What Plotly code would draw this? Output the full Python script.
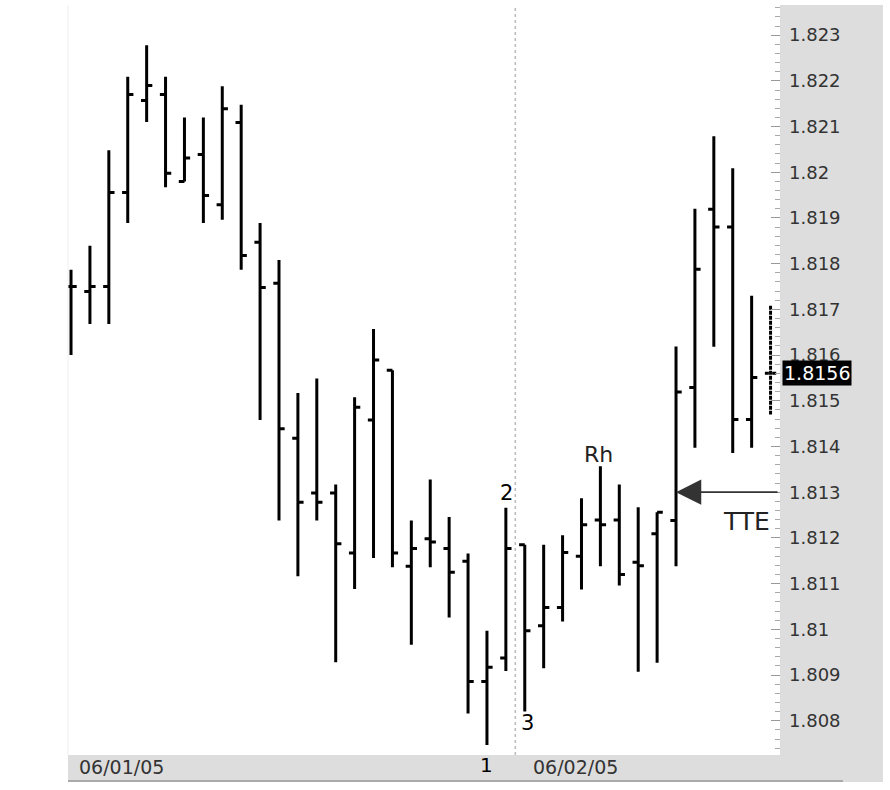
import plotly.graph_objects as go

# ---- data (bar index, OHLC) ----
bars = list(range(38))
opens = [1.8175, 1.81739, 1.8175, 1.81956, 1.82157, 1.8217, 1.8198, 1.82039, 1.81929, 1.82109,
         1.81847, 1.81757, 1.81418, 1.81298, 1.81298, 1.81167, 1.81458, 1.81567, 1.81138, 1.81198,
         1.81177, 1.81149, 1.80886, 1.80937, 1.81185, 1.81008, 1.81048, 1.8116, 1.81239, 1.81239,
         1.81147, 1.81209, 1.81238, 1.81529, 1.81919, 1.8188, 1.81459, 1.8156]
highs = [1.81787, 1.81839, 1.82048, 1.82209, 1.82278, 1.82209, 1.8212, 1.8212, 1.82188, 1.82148,
         1.81889, 1.81808, 1.81517, 1.81549, 1.81317, 1.81508, 1.81657, 1.81567, 1.81238, 1.81328,
         1.81246, 1.81166, 1.80997, 1.81266, 1.81185, 1.81185, 1.81206, 1.81287, 1.81357, 1.81317,
         1.81267, 1.81256, 1.81619, 1.8192, 1.82079, 1.82009, 1.8173, 1.81708]
lows = [1.816, 1.81668, 1.81668, 1.81889, 1.8211, 1.81967, 1.8198, 1.81889, 1.81896, 1.81787,
        1.81458, 1.81238, 1.81116, 1.81238, 1.80928, 1.81088, 1.81156, 1.81136, 1.80966, 1.81136,
        1.81026, 1.80816, 1.80747, 1.80909, 1.8082, 1.80915, 1.81017, 1.81087, 1.81138, 1.81096,
        1.80907, 1.80927, 1.81138, 1.81397, 1.81618, 1.81386, 1.81397, 1.8147]
closes = [1.8175, 1.8175, 1.81956, 1.8217, 1.8219, 1.81998, 1.82031, 1.81949, 1.82139, 1.81818,
          1.81748, 1.81439, 1.81278, 1.81278, 1.81187, 1.81486, 1.81589, 1.81167, 1.81177, 1.81191,
          1.81125, 1.80886, 1.80917, 1.81177, 1.80997, 1.81048, 1.81168, 1.81229, 1.81229, 1.8112,
          1.81139, 1.81256, 1.81519, 1.81788, 1.8188, 1.81459, 1.81551, 1.8156]

y_tickvals = [1.808, 1.809, 1.810, 1.811, 1.812, 1.813, 1.814, 1.815, 1.816, 1.817,
              1.818, 1.819, 1.820, 1.821, 1.822, 1.823]
y_ticktext = ["1.808", "1.809", "1.81", "1.811", "1.812", "1.813", "1.814", "1.815", "1.816",
              "1.817", "1.818", "1.819", "1.82", "1.821", "1.822", "1.823"]
date_labels = ["06/01/05", "06/02/05"]
date_label_pos = [0.32, 24.35]
day_break = 23.5
last_price = 1.8156

FONT = "DejaVu Sans"
fig = go.Figure()

black_line = dict(line=dict(color="black", width=3))
fig.add_trace(go.Ohlc(x=bars[:-1], open=opens[:-1], high=highs[:-1], low=lows[:-1],
                      close=closes[:-1], increasing=black_line, decreasing=black_line,
                      tickwidth=0.3, hoverinfo="skip", showlegend=False))
dash_line = dict(line=dict(color="black", width=3, dash="4px,1px"))
fig.add_trace(go.Ohlc(x=bars[-1:], open=opens[-1:], high=highs[-1:], low=lows[-1:],
                      close=closes[-1:], increasing=dash_line, decreasing=dash_line,
                      tickwidth=0.3, hoverinfo="skip", showlegend=False))

L, R, T, B = 68, 110, 5, 35
W, H = 890, 790
pw, ph = W - L - R, H - T - B

def px_x(p):
    return (p - L) / pw

def px_y(p):
    return (H - B - p) / ph

shapes = [
    dict(type="rect", xref="paper", yref="paper", x0=1, x1=px_x(883), y0=px_y(782), y1=1,
         fillcolor="#dddddd", line=dict(width=0), layer="below"),
    dict(type="rect", xref="paper", yref="paper", x0=0, x1=1, y0=px_y(782), y1=0,
         fillcolor="#dddddd", line=dict(width=0), layer="below"),
    dict(type="line", xref="paper", yref="paper", x0=0, x1=px_x(843), y0=px_y(781), y1=px_y(781),
         line=dict(color="#aaaaaa", width=2)),
    dict(type="line", xref="paper", yref="paper", x0=0, x1=0, y0=0, y1=1,
         line=dict(color="#eeeeee", width=1)),
    dict(type="line", xref="x", yref="paper", x0=day_break, x1=day_break, y0=0, y1=1,
         line=dict(color="#bbbbbb", width=1.5, dash="dot"), layer="below"),
]

annotations = [
    dict(x=1, xref="paper", y=last_price, yref="y", text="1.8156", showarrow=False,
         xanchor="left", yanchor="middle", xshift=2, bgcolor="black", borderpad=1,
         font=dict(family=FONT, size=19, color="white")),
    dict(x=22, xref="x", y=px_y(765), yref="paper", text="1", showarrow=False,
         yanchor="middle", font=dict(family=FONT, size=20, color="black")),
    dict(x=23.05, xref="x", y=1.81298, yref="y", text="2", showarrow=False,
         font=dict(family=FONT, size=21, color="black")),
    dict(x=24.13, xref="x", y=1.80796, yref="y", text="3", showarrow=False,
         font=dict(family=FONT, size=21, color="black")),
    dict(x=27.88, xref="x", y=1.81383, yref="y", text="Rh", showarrow=False,
         font=dict(family=FONT, size=22, color="#222222")),
    dict(x=35.75, xref="x", y=1.81236, yref="y", text="TTE", showarrow=False,
         font=dict(family=FONT, size=25, color="#222222")),
    dict(x=32, xref="x", y=1.813, yref="y", text="", showarrow=True, axref="pixel",
         ayref="pixel", ax=103, ay=0, arrowhead=2, arrowsize=2.8, arrowwidth=1.8,
         arrowcolor="#333333", standoff=0),
]
for lab, pos in zip(date_labels, date_label_pos):
    annotations.append(dict(x=pos, xref="x", y=px_y(767), yref="paper", text=lab,
                            showarrow=False, xanchor="left", yanchor="middle",
                            font=dict(family=FONT, size=19, color="#333333")))

fig.update_layout(
    width=W, height=H, autosize=False,
    margin=dict(l=L, r=R, t=T, b=B),
    paper_bgcolor="white", plot_bgcolor="white",
    shapes=shapes, annotations=annotations,
    xaxis=dict(range=[-0.16, 37.5], showticklabels=False, ticks="", showgrid=False,
               zeroline=False, showline=False, rangeslider=dict(visible=False)),
    yaxis=dict(side="right", range=[1.80725, 1.82366], tickmode="array",
               tickvals=y_tickvals, ticktext=y_ticktext, ticks="inside", ticklen=9,
               tickcolor="#999999", tickwidth=1, showgrid=False, zeroline=False,
               showline=False, ticklabelstandoff=8,
               tickfont=dict(family=FONT, size=18, color="#333333"),
               minor=dict(tickmode="linear", tick0=1.808, dtick=0.0002, ticks="inside",
                          ticklen=5, tickcolor="#aaaaaa", showgrid=False)),
    showlegend=False,
)

fig.write_html("out.html", config={"displayModeBar": False, "staticPlot": True},
               post_script="document.body.style.margin='0';document.body.style.overflow='hidden';")
